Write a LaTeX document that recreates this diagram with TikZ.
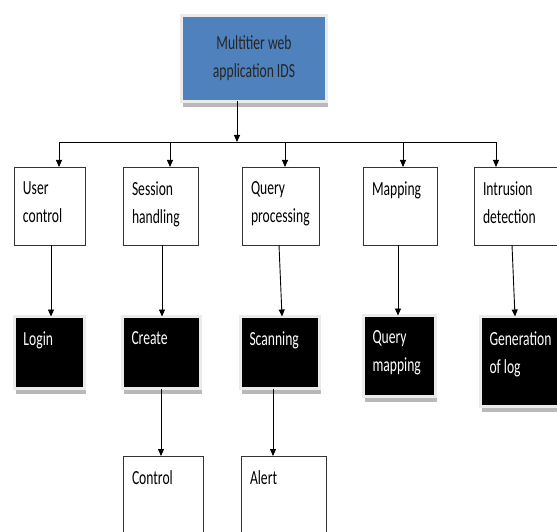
\documentclass[tikz,border=0pt]{standalone}
\usepackage{fontspec}
\setmainfont{Carlito}[FakeStretch=0.68]
\usepackage{tikz}
\usetikzlibrary{arrows.meta,shadows}
\definecolor{appblue}{HTML}{4F81BD}
\newcommand{\boxtext}[3]{\parbox[c][#2][t]{#1}{\leftskip=9pt\vspace*{15pt}#3}}

\begin{document}
\begin{tikzpicture}[x=1pt,y=-1pt,>={Triangle[length=7pt,width=6pt]},
  line width=0.9pt,
  font=\fontsize{20pt}{28pt}\selectfont,
  every node/.style={inner sep=0pt,outer sep=0pt,anchor=north west},
  plain/.style={draw=black!80,fill=white,text=black},
  dark/.style={draw=black!8,line width=3pt,fill=black,text=white,
    drop shadow={shadow xshift=1pt,shadow yshift=-5.5pt,fill=black!55}},
  root/.style={draw=black!8,line width=3pt,fill=appblue,text=black!85,
    align=center,minimum width=145pt,minimum height=86pt,
    drop shadow={shadow xshift=1pt,shadow yshift=-6pt,fill=black!55}}]
  \useasboundingbox (0,0) rectangle (557,532);
  % top
  \node (app) [root] at (181.5,15.5) {Multitier web\\application IDS};
  % first level
  \node (user) [plain] at (14,167) {\boxtext{71pt}{78pt}{User\\control}};
  \node (sess) [plain] at (123,167) {\boxtext{75pt}{78pt}{Session\\handling}};
  \node (query) [plain] at (242,167) {\boxtext{77pt}{78pt}{Query\\processing}};
  \node (map) [plain] at (363,167) {\boxtext{74pt}{78pt}{Mapping}};
  \node (intr) [plain] at (474,167) {\boxtext{84pt}{78pt}{Intrusion\\detection}};
  % second level
  \node (login) [dark] at (14.5,316.5) {\boxtext{70pt}{72pt}{Login}};
  \node (create) [dark] at (122.5,316.5) {\boxtext{78pt}{72pt}{Create}};
  \node (scan) [dark] at (240.5,316.5) {\boxtext{79pt}{72pt}{Scanning}};
  \node (qmap) [dark] at (363.5,315.5) {\boxtext{72pt}{81pt}{Query\\mapping}};
  \node (gen) [dark] at (480.5,316.5) {\boxtext{81pt}{90pt}{Generation\\of log}};
  % third level
  \node (ctrl) [plain] at (123,456) {\boxtext{80pt}{90pt}{Control}};
  \node (alert) [plain] at (241,456) {\boxtext{85pt}{90pt}{Alert}};

  \coordinate (busL) at (59,142);
  \coordinate (busR) at (496,142);
  \draw[->] ([xshift=-17pt]app.south) -- ([xshift=-17pt]app.south |- busL);
  \draw (busL) -- (busR);
  \draw[->] (busL) -- (busL |- user.north);
  \draw[->] ([xshift=9.5pt]sess.north |- busL) -- ([xshift=9.5pt]sess.north);
  \draw[->] ([xshift=4.5pt]query.north |- busL) -- ([xshift=4.5pt]query.north);
  \draw[->] ([xshift=3pt]map.north |- busL) -- ([xshift=3pt]map.north);
  \draw[->] (busR) -- (busR |- intr.north);

  \draw[->] ([xshift=1.5pt]user.south) -- ([xshift=1.5pt]login.north);
  \draw[->] ([xshift=1.5pt]sess.south) -- ([xshift=0.5pt]create.north);
  \draw[->] ([xshift=-1.5pt]query.south) -- ([xshift=2pt]scan.north);
  \draw[->] ([xshift=-2pt]map.south) -- ([xshift=-1.5pt]qmap.north);
  \draw[->] ([xshift=-4pt]intr.south) -- ([xshift=-6pt]gen.north);
  \draw[->] ([xshift=-0.5pt]create.south) -- ([xshift=-2pt]ctrl.north);
  \draw[->] ([xshift=-7pt]scan.south) -- ([xshift=-10.5pt]alert.north);
\end{tikzpicture}
\end{document}
